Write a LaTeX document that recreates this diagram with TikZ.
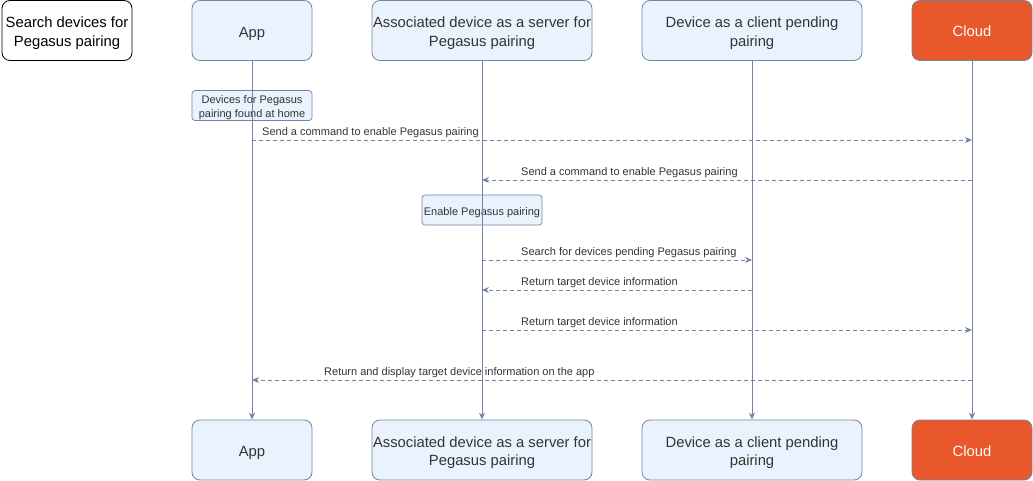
\documentclass[tikz,border=0pt]{standalone}
\usepackage{fontspec}
\setmainfont{Liberation Sans}
\usetikzlibrary{arrows.meta}
\definecolor{lineC}{HTML}{7385A3}
\definecolor{fillC}{HTML}{EAF3FD}
\definecolor{textC}{HTML}{333333}
\definecolor{cloudC}{HTML}{E9582A}
\tikzset{
  hdr/.style={draw=lineC, fill=fillC, rounded corners=8pt, minimum width=#1, minimum height=60pt, inner sep=0pt, line width=0.8pt},
  hdr/.default=120pt,
  hdrtext/.style={align=center, text=textC, font=\fontsize{14.8}{18.5}\selectfont, inner sep=0pt, yshift=-2.5pt},
  cloudbox/.style={draw=lineC, fill=cloudC, rounded corners=8pt, minimum width=120pt, minimum height=60pt, inner sep=0pt, line width=0.8pt},
  cloudtext/.style={text=white, font=\fontsize{14.8}{18.5}\selectfont, inner sep=0pt, yshift=-1pt},
  titlebox/.style={draw=black, fill=white, rounded corners=8pt, minimum width=130pt, minimum height=60pt, inner sep=0pt, line width=0.8pt},
  titletext/.style={align=center, text=black, font=\fontsize{14.8}{18.5}\selectfont, inner sep=0pt, yshift=-2.5pt},
  notebox/.style={draw=lineC, fill=fillC, rounded corners=3pt, minimum width=120pt, minimum height=30pt, inner sep=0pt, line width=0.7pt},
  notetext/.style={align=center, text=textC, font=\fontsize{11}{13.5}\selectfont, inner sep=0pt, yshift=-2pt},
  life/.style={draw=lineC, line width=0.9pt, -{Stealth[length=7pt,width=6pt]}},
  msg/.style={draw=lineC, line width=0.8pt, dash pattern=on 4pt off 3pt, -{Stealth[length=7pt,width=6pt]}},
  lbl/.style={text=textC, font=\fontsize{11}{13}\selectfont, inner sep=0pt, anchor=base west}
}
\begin{document}
\begin{tikzpicture}[x=1pt,y=-1pt]
\useasboundingbox (0,0) rectangle (1033,481);
% title
\node[titlebox, label={[titletext]center:Search devices for\\Pegasus pairing}] (title) at (67,30.5) {};
% headers top
\node[hdr, label={[hdrtext, yshift=-0.5pt]center:App}] (appT) at (252,30.5) {};
\node[hdr=220pt, label={[hdrtext]center:Associated device as a server for\\Pegasus pairing}] (assT) at (482,30.5) {};
\node[hdr=220pt, label={[hdrtext]center:Device as a client pending\\pairing}] (devT) at (752,30.5) {};
\node[cloudbox, label={[cloudtext]center:Cloud}] (cloudT) at (972,30.5) {};
% headers bottom
\node[hdr, label={[hdrtext, yshift=-0.5pt]center:App}] (appB) at (252,450) {};
\node[hdr=220pt, label={[hdrtext]center:Associated device as a server for\\Pegasus pairing}] (assB) at (482,450) {};
\node[hdr=220pt, label={[hdrtext]center:Device as a client pending\\pairing}] (devB) at (752,450) {};
\node[cloudbox, label={[cloudtext]center:Cloud}] (cloudB) at (972,450) {};
% notes
\node[notebox, label={[notetext]center:Devices for Pegasus\\pairing found at home}] (note1) at (252,105.5) {};
\node[notebox, label={[notetext, yshift=-1pt]center:Enable Pegasus pairing}] (note2) at (482,210) {};
% lifelines
\draw[life] (appT.south) -- (appB.north);
\draw[life] (assT.south) -- (assB.north);
\draw[life] (devT.south) -- (devB.north);
\draw[life] (cloudT.south) -- (cloudB.north);
% message coordinates
\coordinate (m1a) at (252,140); \coordinate (m1b) at (972,140);
\coordinate (m2a) at (972,180); \coordinate (m2b) at (482,180);
\coordinate (m3a) at (482,260); \coordinate (m3b) at (752,260);
\coordinate (m4a) at (752,290); \coordinate (m4b) at (482,290);
\coordinate (m5a) at (482,330); \coordinate (m5b) at (972,330);
\coordinate (m6a) at (972,380); \coordinate (m6b) at (252,380);
\draw[msg] (m1a) -- (m1b);
\draw[msg] (m2a) -- (m2b);
\draw[msg] (m3a) -- (m3b);
\draw[msg] (m4a) -- (m4b);
\draw[msg] (m5a) -- (m5b);
\draw[msg] (m6a) -- (m6b);
% labels
\node[lbl] (l1) at (262,135.5) {Send a command to enable Pegasus pairing};
\node[lbl] (l2) at (521,175.5) {Send a command to enable Pegasus pairing};
\node[lbl] (l3) at (521,255.5) {Search for devices pending Pegasus pairing};
\node[lbl] (l4) at (521,285.5) {Return target device information};
\node[lbl] (l5) at (521,325.5) {Return target device information};
\node[lbl] (l6) at (324,375.5) {Return and display target device information on the app};
\end{tikzpicture}
\end{document}
